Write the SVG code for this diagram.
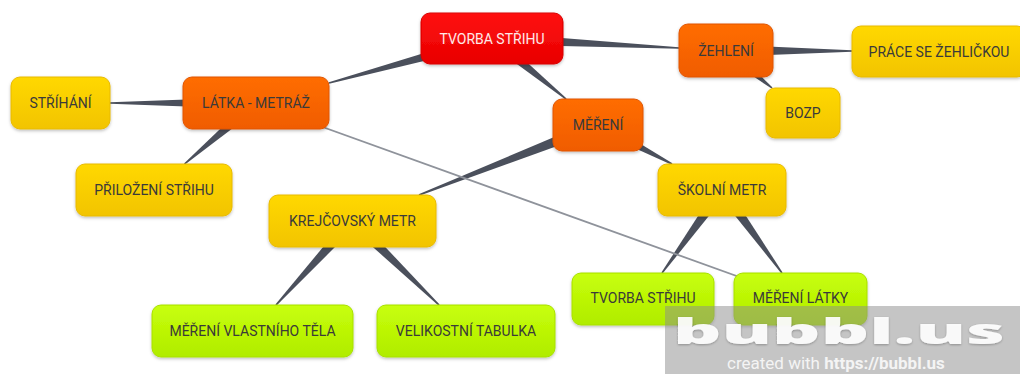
<svg xmlns="http://www.w3.org/2000/svg" width="1020" height="374" viewBox="0 0 1020 374">
<defs>
<linearGradient id="gRed" x1="0" y1="0" x2="0" y2="1"><stop offset="0" stop-color="#ff1010"/><stop offset="1" stop-color="#e80000"/></linearGradient>
<linearGradient id="gOrange" x1="0" y1="0" x2="0" y2="1"><stop offset="0" stop-color="#ff6d00"/><stop offset="1" stop-color="#f05c00"/></linearGradient>
<linearGradient id="gYellow" x1="0" y1="0" x2="0" y2="1"><stop offset="0" stop-color="#ffd800"/><stop offset="1" stop-color="#f2c400"/></linearGradient>
<linearGradient id="gGreen" x1="0" y1="0" x2="0" y2="1"><stop offset="0" stop-color="#c8ff0a"/><stop offset="1" stop-color="#b0ec00"/></linearGradient>
<filter id="sh" x="-10%" y="-10%" width="130%" height="140%"><feDropShadow dx="0" dy="1.5" stdDeviation="1.5" flood-color="#000" flood-opacity="0.25"/></filter>
<filter id="wsh" x="-5%" y="-20%" width="110%" height="150%"><feDropShadow dx="0" dy="1" stdDeviation="1" flood-color="#000" flood-opacity="0.3"/></filter>
</defs>
<style>
.n rect{filter:url(#sh);stroke-width:1}
.red rect{fill:url(#gRed);stroke:#d80000}
.org rect{fill:url(#gOrange);stroke:#e05500}
.yel rect{fill:url(#gYellow);stroke:#e8ba00}
.grn rect{fill:url(#gGreen);stroke:#a8e000}
.n text{font-family:Roboto,"Liberation Sans",sans-serif;font-size:14px;fill:#3a3a3a;text-anchor:middle;dominant-baseline:central}
.red text{fill:#ffe8e8}
.w{fill:#4b505c}
.thin{stroke:#8f939b;stroke-width:1.8;fill:none}
</style>
<rect width="1020" height="374" fill="#ffffff"/>
<g id="connectors">
<polygon class="w" points="490.4,32.7 493.6,44.3 329.2,83.8 328.8,82.2"/>
<polygon class="w" points="492.3,32.5 491.7,44.5 679,48.8 679,47.2"/>
<polygon class="w" points="495.8,33.9 488.2,43.1 565.4,99.5 566.6,98.5"/>
<polygon class="w" points="726.1,44.5 725.9,56.5 852,51.8 852,50.2"/>
<polygon class="w" points="729.8,45.8 722.2,55.2 771.5,88.6 772.5,87.4"/>
<polygon class="w" points="256,97 256,109 110,103.8 110,102.2"/>
<polygon class="w" points="260.5,107 251.5,99 184,163.4 185,164.6"/>
<polygon class="w" points="600.2,130.6 595.8,119.4 418.7,194.3 419.3,195.7"/>
<polygon class="w" points="600.8,119.7 595.2,130.3 671.6,164.7 672.4,163.3"/>
<polygon class="w" points="357,225 348,217 275.4,304.5 276.6,305.5"/>
<polygon class="w" points="357.3,217.4 347.7,224.6 438.4,305.5 439.6,304.5"/>
<polygon class="w" points="726.7,193.7 717.3,186.3 661.4,272.5 662.6,273.5"/>
<polygon class="w" points="726.7,186.3 717.3,193.7 781.4,273.5 782.6,272.5"/>
<line class="thin" x1="256" y1="103" x2="800.5" y2="299"/>
</g>
<g id="n-tvorba" class="n red"><rect x="421" y="13" width="142" height="51" rx="9"/><text x="492" y="38.5">TVORBA STŘIHU</text></g>
<g id="n-zehleni" class="n org"><rect x="679" y="24" width="94" height="53" rx="9"/><text x="726" y="50.5">ŽEHLENÍ</text></g>
<g id="n-prace" class="n yel"><rect x="852" y="26" width="174" height="51" rx="9"/><text x="939" y="51.5">PRÁCE SE ŽEHLIČKOU</text></g>
<g id="n-bozp" class="n yel"><rect x="766" y="88" width="74" height="50" rx="9"/><text x="803" y="113">BOZP</text></g>
<g id="n-latka" class="n org"><rect x="183" y="77" width="146" height="52" rx="9"/><text x="256" y="103">LÁTKA - METRÁŽ</text></g>
<g id="n-strihani" class="n yel"><rect x="11" y="77" width="99" height="52" rx="9"/><text x="60.5" y="103">STŘÍHÁNÍ</text></g>
<g id="n-prilozeni" class="n yel"><rect x="76" y="164" width="156" height="52" rx="9"/><text x="154" y="190">PŘILOŽENÍ STŘIHU</text></g>
<g id="n-mereni" class="n org"><rect x="553" y="99" width="90" height="52" rx="9"/><text x="598" y="125">MĚŘENÍ</text></g>
<g id="n-skolni" class="n yel"><rect x="658" y="164" width="128" height="52" rx="9"/><text x="722" y="190">ŠKOLNÍ METR</text></g>
<g id="n-krejcovsky" class="n yel"><rect x="269" y="195" width="167" height="52" rx="9"/><text x="352.5" y="221">KREJČOVSKÝ METR</text></g>
<g id="n-vlastni" class="n grn"><rect x="152" y="305" width="201" height="52" rx="9"/><text x="252.5" y="331">MĚŘENÍ VLASTNÍHO TĚLA</text></g>
<g id="n-velikostni" class="n grn"><rect x="377" y="305" width="178" height="52" rx="9"/><text x="466" y="331">VELIKOSTNÍ TABULKA</text></g>
<g id="n-tvorba2" class="n grn"><rect x="572" y="273" width="142" height="52" rx="9"/><text x="643" y="298">TVORBA STŘIHU</text></g>
<g id="n-mereni-latky" class="n grn"><rect x="734" y="273" width="133" height="52" rx="9"/><text x="800.5" y="298">MĚŘENÍ LÁTKY</text></g>
<g id="watermark">
<rect x="665" y="306" width="355" height="68" fill="#8c8c8c" fill-opacity="0.5"/>
<text x="673" y="344" font-family="'Open Sans','DejaVu Sans',sans-serif" font-weight="800" font-size="36" fill="#ffffff" fill-opacity="0.92" textLength="332" lengthAdjust="spacingAndGlyphs" filter="url(#wsh)">bubbl.us</text>
<text x="727" y="369" font-family="Roboto,'Liberation Sans',sans-serif" font-size="17" fill="#f4f4f4">created with <tspan font-weight="bold">https://bubbl.us</tspan></text>
</g>
</svg>
